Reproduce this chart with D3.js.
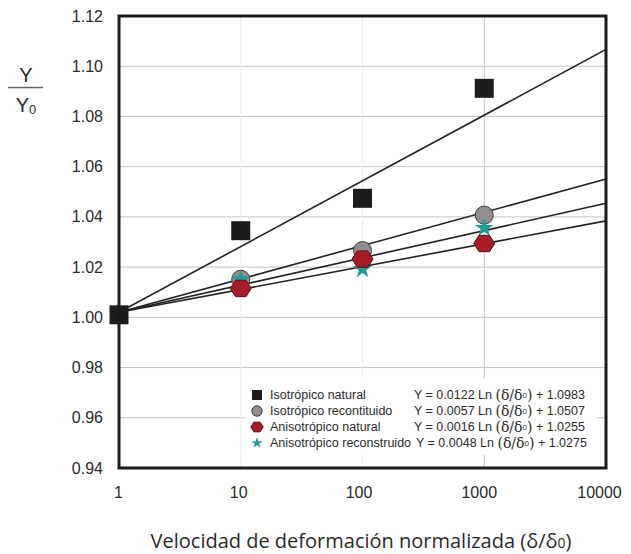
<!DOCTYPE html>
<html><head><meta charset="utf-8">
<script src="https://cdn.jsdelivr.net/npm/d3@7/dist/d3.min.js"></script>
<style>body{margin:0;background:#fff}svg{display:block}</style>
</head><body>
<svg id="c" width="631" height="554"></svg>
<script>
const xTicks = [1, 10, 100, 1000, 10000];
const yTicks = [0.94, 0.96, 0.98, 1.00, 1.02, 1.04, 1.06, 1.08, 1.10, 1.12];
const rates = [1, 10, 100, 1000];
const isoNatural = [1.001, 1.0345, 1.0474, 1.0912];
const isoRecon = [null, 1.0152, 1.0266, 1.0407];
const anisoRecon = [null, 1.0150, 1.0192, 1.0356];
const anisoNatural = [null, 1.0115, 1.0232, 1.0294];
// fitted lines: value at x=1 and at x=10000
const fitX = [1, 10000];
const fitIsoNatural = [1.002, 1.1067];
const fitIsoRecon = [1.002, 1.0551];
const fitAnisoRecon = [1.002, 1.0454];
const fitAnisoNatural = [1.002, 1.0384];
const legendNames = ["Isotrópico natural", "Isotrópico recontituido", "Anisotrópico natural", "Anisotrópico reconstruido"];
const legendSlopes = ["0.0122", "0.0057", "0.0016", "0.0048"];
const legendIntercepts = ["1.0983", "1.0507", "1.0255", "1.0275"];

const svg = d3.select("#c");
const L = 119, R = 606, T = 16, B = 468;
const x = d3.scaleLog().domain([1, 10000]).range([L, R]);
const xLab = d3.scaleLog().domain([1, 10000]).range([118.5, 599.5]);
const y = d3.scaleLinear().domain([0.94, 1.12]).range([B, T]);

// gridlines
const g = svg.append("g");
g.selectAll("line.h").data(yTicks.filter(v => v > 0.945 && v < 1.115)).join("line")
  .attr("x1", L).attr("x2", R).attr("y1", d => y(d)).attr("y2", d => y(d))
  .attr("stroke", "#c4c4c4").attr("stroke-width", 1);
g.selectAll("line.v").data([10, 100, 1000]).join("line")
  .attr("x1", d => x(d)).attr("x2", d => x(d)).attr("y1", T).attr("y2", B)
  .attr("stroke", d => d === 1000 ? "#c4c4c4" : "#ececec").attr("stroke-width", 1);

// legend background (hides grid)
const legX = 245, legY = 378;
svg.append("rect").attr("x", legX).attr("y", legY).attr("width", 352).attr("height", 77).attr("fill", "#fff");

// fit lines
const fits = [fitIsoNatural, fitIsoRecon, fitAnisoRecon, fitAnisoNatural];
const line = d3.line().x(d => x(d[0])).y(d => y(d[1]));
svg.selectAll("path.fit").data(fits).join("path")
  .attr("d", f => line(fitX.map((xv, i) => [xv, f[i]])))
  .attr("fill", "none").attr("stroke", "#222").attr("stroke-width", 1.6);

// markers
const hexPath = r => {
  const pts = d3.range(6).map(i => [r * Math.cos(i * Math.PI / 3), r * 0.9 * Math.sin(i * Math.PI / 3)]);
  return "M" + pts.map(p => p.join(",")).join("L") + "Z";
};
const pts = (arr) => rates.map((r, i) => ({ r, v: arr[i] })).filter(d => d.v != null);

svg.selectAll("rect.sq").data(pts(isoNatural)).join("rect")
  .attr("x", d => x(d.r) - 9.5).attr("y", d => y(d.v) - 9.5).attr("width", 19).attr("height", 19)
  .attr("fill", "#1c1c1c");
svg.selectAll("circle.ci").data(pts(isoRecon)).join("circle")
  .attr("cx", d => x(d.r)).attr("cy", d => y(d.v)).attr("r", 9)
  .attr("fill", "#8f8f8f").attr("stroke", "#3a3a3a").attr("stroke-width", 1);
svg.selectAll("path.st").data(pts(anisoRecon)).join("path")
  .attr("d", d3.symbol(d3.symbolStar, 110))
  .attr("transform", d => `translate(${x(d.r)},${y(d.v)})`)
  .attr("fill", "#1d9d97");
svg.selectAll("path.hx").data(pts(anisoNatural)).join("path")
  .attr("d", hexPath(10.5))
  .attr("transform", d => `translate(${x(d.r)},${y(d.v)})`)
  .attr("fill", "#a51d24").attr("stroke", "#5a1014").attr("stroke-width", 1);

// frame
svg.append("rect").attr("x", L).attr("y", T).attr("width", R - L).attr("height", B - T)
  .attr("fill", "none").attr("stroke", "#1a1a1a").attr("stroke-width", 3);

// y tick labels
svg.selectAll("text.yt").data(yTicks).join("text")
  .attr("x", 103).attr("y", d => y(d)).attr("text-anchor", "end").attr("dominant-baseline", "central")
  .attr("font-family", "Liberation Sans, Arial, sans-serif").attr("font-size", 16).attr("fill", "#2a2a2a")
  .text(d => d.toFixed(2));
// x tick labels
svg.selectAll("text.xt").data(xTicks).join("text")
  .attr("x", d => xLab(d)).attr("y", 492).attr("text-anchor", "middle").attr("dominant-baseline", "central")
  .attr("font-family", "Liberation Sans, Arial, sans-serif").attr("font-size", 16).attr("fill", "#2a2a2a")
  .text(d => d);

// y axis label Y / Y0
const yl = svg.append("g").attr("font-family", "Liberation Sans, Arial, sans-serif").attr("fill", "#2a2a2a");
yl.append("text").attr("x", 26).attr("y", 82).attr("text-anchor", "middle").attr("font-size", 20).text("Y");
yl.append("line").attr("x1", 8).attr("x2", 43).attr("y1", 87.5).attr("y2", 87.5).attr("stroke", "#666").attr("stroke-width", 1.5);
const y0 = yl.append("text").attr("x", 26).attr("y", 112).attr("text-anchor", "middle").attr("font-size", 20);
y0.append("tspan").text("Y");
y0.append("tspan").attr("font-size", 13).attr("dy", 2).text("0");

// x axis title
const xt = svg.append("text").attr("x", 361).attr("y", 548).attr("text-anchor", "middle")
  .attr("font-family", "Open Sans, sans-serif").attr("font-size", 20).attr("fill", "#2a2a2a");
xt.append("tspan").text("Velocidad de deformación normalizada (δ/δ");
xt.append("tspan").attr("font-size", 14).text("0");
xt.append("tspan").text(")");

// legend
const rowsY = [395, 411, 427, 443];
const mk = 257;
svg.append("rect").attr("x", mk - 5).attr("y", rowsY[0] - 5).attr("width", 10).attr("height", 10).attr("fill", "#1c1c1c");
svg.append("circle").attr("cx", mk).attr("cy", rowsY[1]).attr("r", 5.2).attr("fill", "#8f8f8f").attr("stroke", "#3a3a3a");
svg.append("path").attr("d", hexPath(6.3)).attr("transform", `translate(${mk},${rowsY[2]})`).attr("fill", "#a51d24").attr("stroke", "#5a1014").attr("stroke-width", 0.8);
svg.append("path").attr("d", d3.symbol(d3.symbolStar, 40)).attr("transform", `translate(${mk},${rowsY[3]})`).attr("fill", "#1d9d97");

const lg = svg.append("g").attr("font-family", "Liberation Sans, Arial, sans-serif").attr("font-size", 12.5).attr("fill", "#2a2a2a");
lg.selectAll("text.ln").data(legendNames).join("text")
  .attr("x", 270).attr("y", (d, i) => rowsY[i]).attr("dominant-baseline", "central").text(d => d);
legendSlopes.forEach((s, i) => {
  const t = lg.append("text").attr("x", i === 3 ? 416 : 414).attr("y", rowsY[i]).attr("dominant-baseline", "central");
  t.append("tspan").text(`Y = ${s} Ln `);
  t.append("tspan").attr("font-family", "DejaVu Serif, serif").attr("font-size", 14).text("(δ/δ");
  t.append("tspan").attr("font-size", 8).text("0");
  t.append("tspan").attr("font-family", "DejaVu Serif, serif").attr("font-size", 14).text(")");
  t.append("tspan").text(` + ${legendIntercepts[i]}`);
});
</script>
</body></html>
